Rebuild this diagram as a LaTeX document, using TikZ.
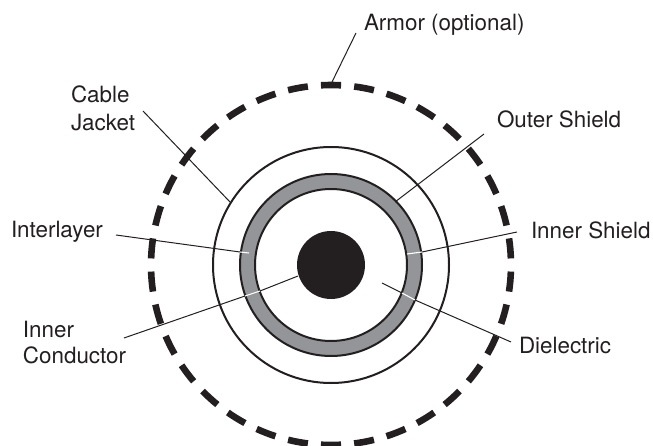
\documentclass[tikz,border=0pt]{standalone}
\usepackage{fontspec}
\setmainfont{TeX Gyre Heros}
\definecolor{ink}{HTML}{231F20}
\definecolor{ringgray}{HTML}{939598}
\tikzset{
  x=1pt,y=-1pt,
  lbl/.style={anchor=base west,inner sep=0pt,outer sep=0pt,text=ink,font=\fontsize{22.4}{26.5}\selectfont,align=left},
  leader/.style={draw=ink,line width=1pt},
  knock/.style={draw=white,line width=1.1pt},
  ringline/.style={draw=ink,line width=2pt},
  armordash/.style={draw=ink,line width=6.6pt}
}
\begin{document}
\begin{tikzpicture}
\useasboundingbox (0,0) rectangle (653,446);
\coordinate (c) at (331,265);
% armor
\foreach \k in {0,...,33}{
  \pgfmathsetmacro{\a}{90+\k*360/34-3.2}
  \draw[armordash] ({331+180*cos(\a)},{265-180*sin(\a)}) arc[start angle=-\a,delta angle=-6.4,radius=180];
}
% cable layers
\node[circle,ringline,minimum size=236pt,inner sep=0pt] (jacket) at (c) {};
\node[circle,ringline,fill=ringgray,minimum size=182pt,inner sep=0pt] (outer) at (c) {};
\node[circle,ringline,fill=white,minimum size=152pt,inner sep=0pt] (inner) at (c) {};
\node[circle,fill=ink,minimum size=68pt,inner sep=0pt] (core) at (c) {};
% labels
\node[lbl] (armor) at (364,30.5) {Armor (optional)};
\node[lbl] (cablej) at (71,103) {Cable};
\node[lbl] (cablej2) at (71,131) {Jacket};
\node[lbl] (outerl) at (497,128) {Outer Shield};
\node[lbl] (innerl) at (531,239) {Inner Shield};
\node[lbl] (diel) at (519,353) {Dielectric};
\node[lbl] (inter) at (11,238) {Interlayer};
\node[lbl] (cond) at (23,337) {Inner};
\node[lbl] (cond2) at (23,363) {Conductor};
% leader end points
\coordinate (a1) at (356,33);   \coordinate (a2) at (332,82);
\coordinate (j1) at (143,111);  \coordinate (j2) at (230,202);
\coordinate (o1) at (484,134);  \coordinate (o2) at (395,202);
\coordinate (s1) at (517,232);  \coordinate (s2) at (422,252); \coordinate (s3) at (407,254);
\coordinate (i1) at (116,235);  \coordinate (i2) at (240,252); \coordinate (i3) at (249,253);
\coordinate (n1) at (124,338);  \coordinate (n2) at (245,296); \coordinate (n3) at (260,291); \coordinate (n4) at (298,276);
\coordinate (d1) at (382,283);  \coordinate (d2) at (402,293); \coordinate (d3) at (415,300); \coordinate (d4) at (511,342);
\draw[leader] (a1) -- (a2);
\draw[leader] (j1) -- (j2);
\draw[leader] (o1) -- (o2);
\draw[leader] (s1) -- (s2);
\draw[knock]  (s2) -- (s3);
\draw[leader] (i1) -- (i2);
\draw[knock]  (i2) -- (i3);
\draw[leader] (n1) -- (n2);
\draw[knock]  (n2) -- (n3);
\draw[leader] (n3) -- (n4);
\draw[leader] (d1) -- (d2);
\draw[knock]  (d2) -- (d3);
\draw[leader] (d3) -- (d4);
\end{tikzpicture}
\end{document}
